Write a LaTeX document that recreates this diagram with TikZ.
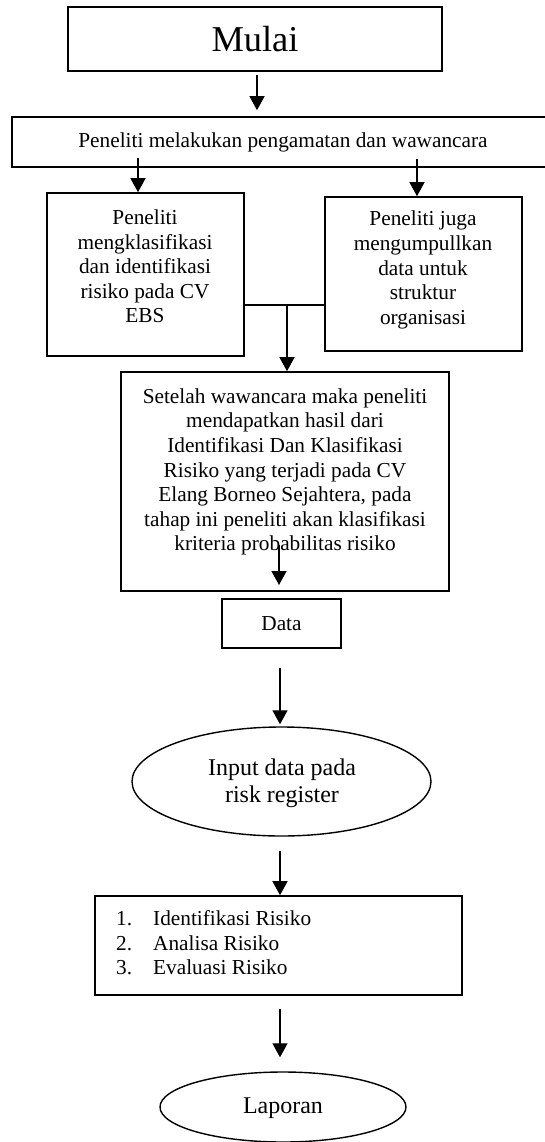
\documentclass[tikz,border=0pt]{standalone}
\usepackage{fontspec}
\setmainfont{Liberation Serif}
\usetikzlibrary{arrows.meta,shapes.geometric,calc}
\begin{document}
\begin{tikzpicture}[x=1pt,y=-1pt,
  box/.style={draw,line width=1.6pt,inner sep=0pt},
  oval/.style={draw,ellipse,line width=1.4pt,inner sep=0pt},
  arr/.style={line width=1.3pt,-{Triangle[width=15pt,length=14pt]}},
  conn/.style={line width=1.3pt},
  txt/.style={inner sep=0pt,align=center,font=\fontsize{21.3}{24.6}\selectfont},
  bigtxt/.style={inner sep=0pt,align=center,font=\fontsize{24}{27}\selectfont},
  listtxt/.style={inner sep=0pt,align=left,font=\fontsize{21.3}{24.5}\selectfont}
]
\useasboundingbox (0,0) rectangle (545,1142);

% boxes
\node[box,minimum width=374pt,minimum height=64pt,font=\fontsize{36.4}{40}\selectfont] (mulai) at (255,39) {Mulai};
\node[box,minimum width=542pt,minimum height=50pt,font=\fontsize{21.3}{24.6}\selectfont] (box2) at (283,142) {Peneliti melakukan pengamatan dan wawancara};
\node[box,minimum width=197pt,minimum height=163pt] (left) at (145.5,274.5) {};
\node[box,minimum width=197pt,minimum height=154pt] (right) at (423.5,274) {};
\node[box,minimum width=328pt,minimum height=219pt] (mid) at (285,481.5) {};
\node[box,minimum width=119pt,minimum height=49pt,font=\fontsize{21.3}{24.6}\selectfont] (data) at (281.5,623.5) {Data};
\node[oval,minimum width=299pt,minimum height=109pt] (input) at (281.5,781.5) {};
\node[box,minimum width=367pt,minimum height=99pt] (list) at (278.5,945.5) {};
\node[oval,minimum width=246pt,minimum height=70pt,font=\fontsize{24}{27}\selectfont] (laporan) at (283,1107) {};

% texts
\node[txt] (tleft) at (145,266.5) {Peneliti\\mengklasifikasi\\dan identifikasi\\risiko pada CV\\EBS};
\node[txt] (tright) at (423,270) {Peneliti juga\\mengumpullkan\\data untuk\\struktur\\organisasi};
\node[txt] (tmid) at (285,472) {Setelah wawancara maka peneliti\\mendapatkan hasil dari\\Identifikasi Dan Klasifikasi\\Risiko yang terjadi pada CV\\Elang Borneo Sejahtera, pada\\tahap ini peneliti akan klasifikasi\\kriteria probabilitas risiko};
\node[bigtxt] (tinput) at (282,783.5) {Input data pada\\risk register};
\node[bigtxt] (tlap) at (283,1108) {Laporan};
\node[listtxt,anchor=west] (tlist) at (116,943) {\makebox[37pt][l]{1.}Identifikasi Risiko\\\makebox[37pt][l]{2.}Analisa Risiko\\\makebox[37pt][l]{3.}Evaluasi Risiko};

% connectors
\draw[arr] ($(box2.north)+(-26,-41)$) -- ($(box2.north)+(-26,-6)$);
\draw[arr] ($(left.north)+(-7.5,-34)$) -- (left.north -| 138,0);
\draw[arr] ($(right.north)+(-6.5,-37)$) -- (right.north -| 417,0);
\coordinate (j) at (287,305);
\draw[conn] (left.east |- j) -- (right.west |- j);
\draw[arr] (j) -- (j |- mid.north);
\coordinate (m1) at (279,545);
\draw[arr] (m1) -- ++(0,40);
\draw[arr] ($(data.south)+(-1.5,19)$) -- ($(input.north)+(-1.5,-2)$);
\draw[arr] ($(input.south)+(-1.5,14)$) -- ($(list.north)+(1.5,0)$);
\draw[arr] ($(list.south)+(1.5,13)$) -- ($(laporan.north)+(-3,-14)$);
\end{tikzpicture}
\end{document}
